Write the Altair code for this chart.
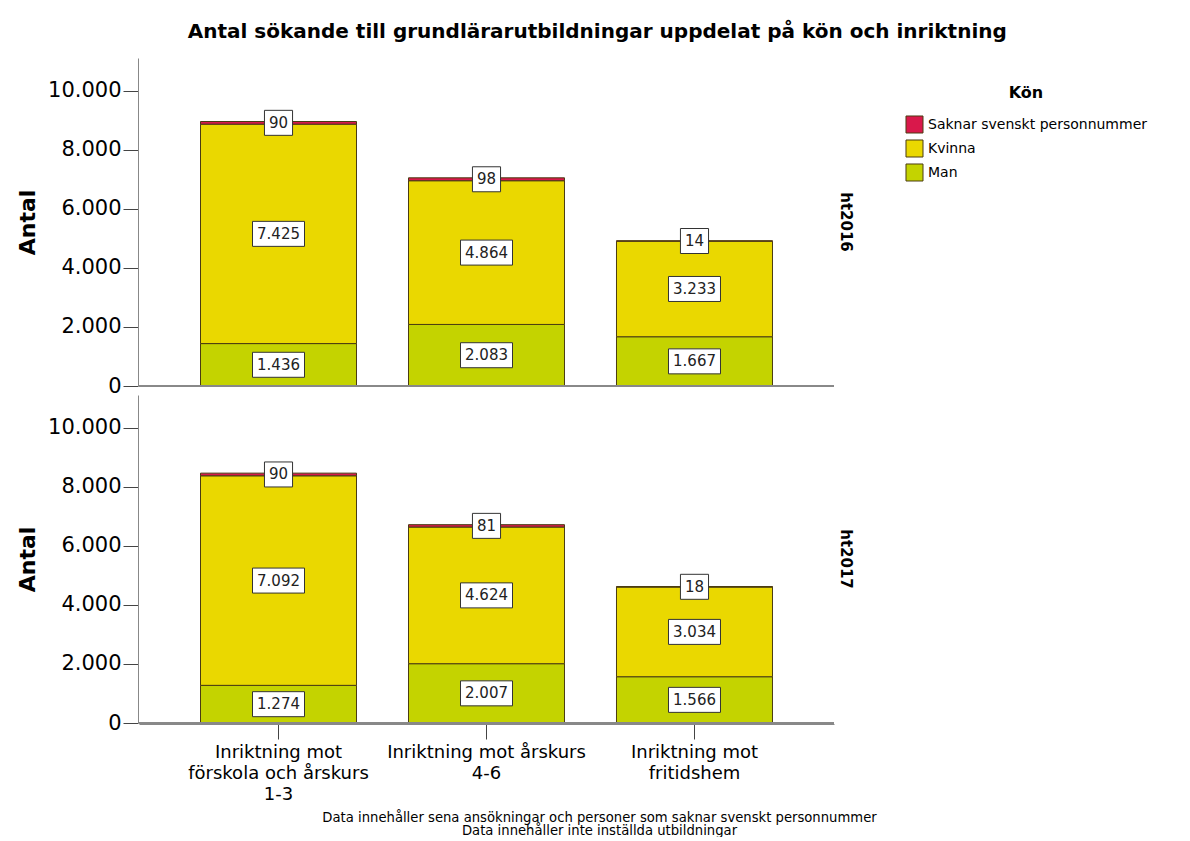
import altair as alt
import pandas as pd

# ---- data ----
years = ["ht2016", "ht2017"]
categories = [
    "Inriktning mot förskola och årskurs 1-3",
    "Inriktning mot årskurs 4-6",
    "Inriktning mot fritidshem",
]
category_lines = [
    ["Inriktning mot", "förskola och årskurs", "1-3"],
    ["Inriktning mot årskurs", "4-6"],
    ["Inriktning mot", "fritidshem"],
]
genders = ["Saknar svenskt personnummer", "Kvinna", "Man"]
gender_colors = ["#D9184B", "#EAD800", "#C4D300"]

man_2016 = [1436, 2083, 1667]
kvinna_2016 = [7425, 4864, 3233]
saknar_2016 = [90, 98, 14]
man_2017 = [1274, 2007, 1566]
kvinna_2017 = [7092, 4624, 3034]
saknar_2017 = [90, 81, 18]

y_ticks = [0, 2000, 4000, 6000, 8000, 10000]
title_text = "Antal sökande till grundlärarutbildningar uppdelat på kön och inriktning"
footnote = [
    "Data innehåller sena ansökningar och personer som saknar svenskt personnummer",
    "Data innehåller inte inställda utbildningar",
]

series = {
    ("ht2016", "Man"): man_2016,
    ("ht2016", "Kvinna"): kvinna_2016,
    ("ht2016", "Saknar svenskt personnummer"): saknar_2016,
    ("ht2017", "Man"): man_2017,
    ("ht2017", "Kvinna"): kvinna_2017,
    ("ht2017", "Saknar svenskt personnummer"): saknar_2017,
}
rows = []
for (yr, g), vals in series.items():
    for c, v in zip(categories, vals):
        rows.append({"year": yr, "category": c, "gender": g, "value": v,
                     "order": len(genders) - 1 - genders.index(g)})
df = pd.DataFrame(rows)

# ---- styling ----
FONT = "DejaVu Sans"
W, H = 695, 328
EDGE = "#4a3c12"

label_expr = ""
for c, lines in zip(categories[:-1], category_lines[:-1]):
    arr = "[" + ", ".join("'" + s + "'" for s in lines) + "]"
    label_expr += f"datum.label == '{c}' ? {arr} : "
label_expr += "[" + ", ".join("'" + s + "'" for s in category_lines[-1]) + "]"

x_axis = alt.Axis(
    title=footnote, labelExpr=label_expr, labelAngle=0, labelFont=FONT,
    labelFontSize=18, labelLineHeight=21, labelColor="black", labelPadding=4,
    labelLimit=0,
    tickSize=15, tickColor="#444", domainColor="#888",
    titleFont=FONT, titleFontSize=13.2, titleFontWeight="normal",
    titleLineHeight=13, titleColor="black", titleX=460, titleAlign="center",
    titlePadding=8,
)
x_scale = alt.Scale(paddingInner=0.25, paddingOuter=0.2957)
y_axis = alt.Axis(
    title="Antal", values=y_ticks,
    labelExpr="replace(format(datum.value, ','), ',', '.')",
    labelFont=FONT, labelFontSize=21, labelColor="black", labelPadding=2,
    tickSize=15, tickColor="#444", domainColor="#888", grid=False,
    titleFont=FONT, titleFontSize=22, titleFontWeight="bold", titleColor="black",
    titlePadding=8,
)
y_scale = alt.Scale(domain=[0, 11100], nice=False)


def X():
    return alt.X("category:N", sort=categories, scale=x_scale, axis=x_axis)


def Y(f):
    return alt.Y(f, scale=y_scale, axis=y_axis)


base = alt.Chart().transform_stack(
    stack="value", groupby=["year", "category"], as_=["y0", "y1"],
    sort=[alt.SortField("order", order="ascending")],
).transform_calculate(
    mid="(datum.y0 + datum.y1) / 2",
    label="replace(format(datum.value, ','), ',', '.')",
).transform_calculate(
    boxw="(indexof(datum.label, '.') >= 0 ? 4.8 + 9.55 * (length(datum.label) - 1) : 9.55 * length(datum.label)) + 9",
)

bars = base.mark_bar(stroke=EDGE, strokeWidth=1).encode(
    x=X(),
    y=Y("y0:Q"),
    y2="y1:Q",
    color=alt.Color(
        "gender:N",
        scale=alt.Scale(domain=genders, range=gender_colors),
        legend=alt.Legend(
            title="Kön", orient="none", legendX=766, legendY=27,
            titleFont=FONT, titleFontSize=16, titleFontWeight="bold",
            titleColor="black", titleAnchor="middle", titlePadding=14,
            labelFont=FONT, labelFontSize=14, labelColor="black", labelLimit=0,
            labelOffset=4, symbolType="square", symbolSize=290,
            symbolStrokeColor=EDGE, symbolStrokeWidth=1, rowPadding=1,
        ),
    ),
)

baseline = base.mark_rule(color="#888", strokeWidth=1).encode(
    y=Y("zero:Q"), x=alt.value(0), x2=alt.value(W)
).transform_calculate(zero="0")

boxes = base.mark_bar(
    fill="white", stroke="#333", strokeWidth=1, yOffset=-12.5, y2Offset=12.5
).encode(
    x=X(), y=Y("mid:Q"), y2="mid:Q",
    size=alt.Size("boxw:Q", scale=None, legend=None),
)

texts = base.mark_text(font=FONT, fontSize=15, color="#222", baseline="middle").encode(
    x=X(), y=Y("mid:Q"), text="label:N"
)

layered = alt.layer(bars, baseline, boxes, texts, data=df).properties(width=W, height=H)

chart = layered.facet(
    row=alt.Row(
        "year:N", sort=years,
        header=alt.Header(
            title=None, labelOrient="right", labelAngle=90, labelFont=FONT,
            labelFontSize=15, labelFontWeight="bold", labelColor="black",
            labelPadding=-4, labelAlign="center", labelBaseline="middle",
        ),
    ),
    spacing=8,
).properties(
    title=alt.TitleParams(
        text=title_text, font=FONT, fontSize=20, fontWeight="bold",
        color="black", anchor="middle", frame="bounds", offset=16, dx=15,
    ),
    padding={"left": 8, "right": 4, "top": 14, "bottom": 0},
).configure_view(stroke=None)

chart.save("out.html", embed_options={"renderer": "svg", "actions": False})
